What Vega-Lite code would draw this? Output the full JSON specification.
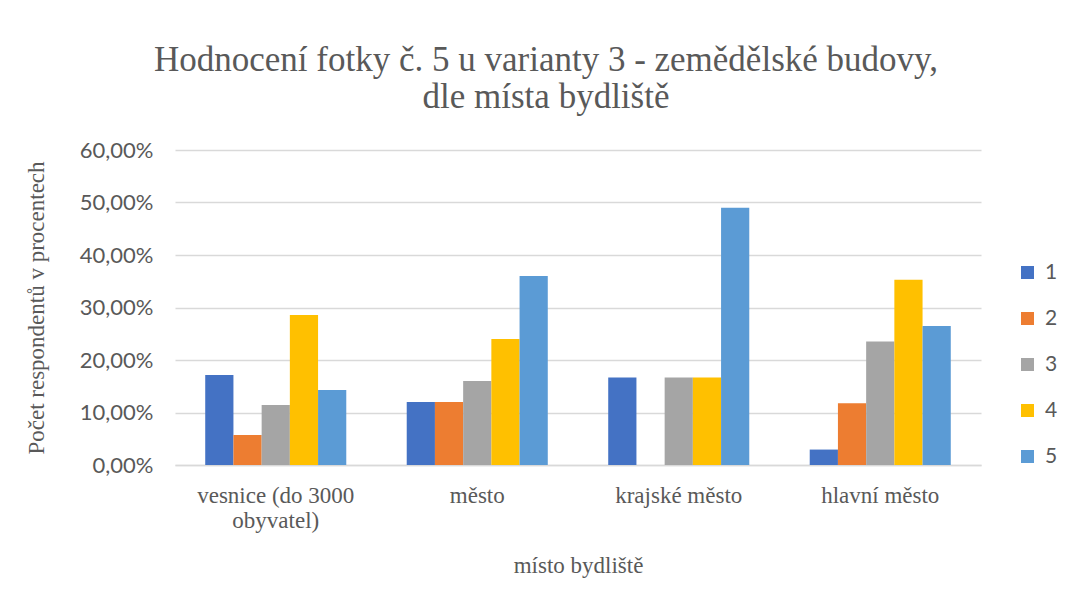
{
  "$schema": "https://vega.github.io/schema/vega-lite/v6.json",
  "autosize": {"type": "none"},
  "padding": {"left": 175, "top": 150, "right": 89, "bottom": 133},
  "width": 806,
  "height": 315,
  "background": "white",
  "title": {
    "text": ["Hodnocení fotky č. 5 u varianty 3 - zemědělské budovy,", "dle místa bydliště"],
    "font": "Liberation Serif",
    "fontSize": 35,
    "fontWeight": "normal",
    "color": "#595959",
    "lineHeight": 37,
    "anchor": "middle",
    "dx": -32,
    "offset": 24
  },
  "data": {
    "values": [
      {"misto": "vesnice (do 3000 obyvatel)", "hodnoceni": "1", "procenta": 17.14},
      {"misto": "vesnice (do 3000 obyvatel)", "hodnoceni": "2", "procenta": 5.71},
      {"misto": "vesnice (do 3000 obyvatel)", "hodnoceni": "3", "procenta": 11.43},
      {"misto": "vesnice (do 3000 obyvatel)", "hodnoceni": "4", "procenta": 28.57},
      {"misto": "vesnice (do 3000 obyvatel)", "hodnoceni": "5", "procenta": 14.29},
      {"misto": "město", "hodnoceni": "1", "procenta": 12.0},
      {"misto": "město", "hodnoceni": "2", "procenta": 12.0},
      {"misto": "město", "hodnoceni": "3", "procenta": 16.0},
      {"misto": "město", "hodnoceni": "4", "procenta": 24.0},
      {"misto": "město", "hodnoceni": "5", "procenta": 36.0},
      {"misto": "krajské město", "hodnoceni": "1", "procenta": 16.67},
      {"misto": "krajské město", "hodnoceni": "2", "procenta": 0},
      {"misto": "krajské město", "hodnoceni": "3", "procenta": 16.67},
      {"misto": "krajské město", "hodnoceni": "4", "procenta": 16.67},
      {"misto": "krajské město", "hodnoceni": "5", "procenta": 49.0},
      {"misto": "hlavní město", "hodnoceni": "1", "procenta": 2.94},
      {"misto": "hlavní město", "hodnoceni": "2", "procenta": 11.76},
      {"misto": "hlavní město", "hodnoceni": "3", "procenta": 23.53},
      {"misto": "hlavní město", "hodnoceni": "4", "procenta": 35.29},
      {"misto": "hlavní město", "hodnoceni": "5", "procenta": 26.47}
    ]
  },
  "mark": {"type": "bar"},
  "encoding": {
    "x": {
      "field": "misto",
      "type": "nominal",
      "sort": null,
      "scale": {"paddingInner": 0.3, "paddingOuter": 0.15},
      "axis": {
        "title": "místo bydliště",
        "titleFont": "Liberation Serif",
        "titleFontSize": 23,
        "titleFontWeight": "normal",
        "titleColor": "#595959",
        "titlePadding": 22,
        "labelFont": "Liberation Serif",
        "labelFontSize": 23,
        "labelColor": "#595959",
        "labelAngle": 0,
        "labelPadding": 19,
        "labelLineHeight": 25,
        "labelExpr": "datum.label == 'vesnice (do 3000 obyvatel)' ? ['vesnice (do 3000', 'obyvatel)'] : datum.label",
        "ticks": false,
        "domain": true,
        "domainColor": "#d9d9d9",
        "domainWidth": 1.5,
        "grid": false
      }
    },
    "xOffset": {"field": "hodnoceni", "type": "nominal", "scale": {"paddingInner": 0, "paddingOuter": 0}},
    "y": {
      "field": "procenta",
      "type": "quantitative",
      "scale": {"domain": [0, 60], "nice": false},
      "axis": {
        "title": "Počet respondentů v procentech",
        "titleFont": "Liberation Serif",
        "titleFontSize": 23,
        "titleFontWeight": "normal",
        "titleColor": "#595959",
        "titlePadding": 31,
        "values": [0, 10, 20, 30, 40, 50, 60],
        "labelExpr": "replace(format(datum.value, '.2f'), '.', ',') + '%'",
        "labelFont": "Lato",
        "labelFontSize": 22,
        "labelColor": "#595959",
        "labelPadding": 22,
        "ticks": false,
        "domain": false,
        "grid": true,
        "gridColor": "#d9d9d9",
        "gridWidth": 1.5
      }
    },
    "color": {
      "field": "hodnoceni",
      "type": "nominal",
      "scale": {"domain": ["1", "2", "3", "4", "5"], "range": ["#4472C4", "#ED7D31", "#A5A5A5", "#FFC000", "#5B9BD5"]},
      "legend": {
        "title": null,
        "orient": "none",
        "legendX": 842,
        "legendY": 112,
        "symbolType": "square",
        "symbolSize": 169,
        "symbolStrokeWidth": 0,
        "labelFont": "Lato",
        "labelFontSize": 21,
        "labelColor": "#595959",
        "labelOffset": 7,
        "rowPadding": 24
      }
    }
  },
  "config": {"view": {"stroke": null}}
}
